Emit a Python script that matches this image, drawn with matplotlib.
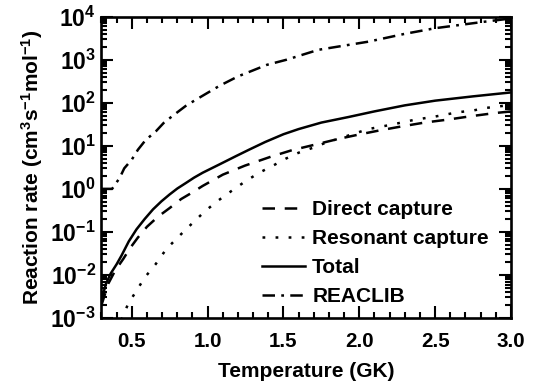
import matplotlib
matplotlib.use("Agg")
import numpy as np
import matplotlib.pyplot as plt
from matplotlib.ticker import MultipleLocator, LogLocator, NullFormatter

# ── data ────────────────────────────────────────────────────────────────────
T_direct = [0.30, 0.345, 0.39, 0.443, 0.49, 0.54, 0.60, 0.672, 0.75, 0.825, 0.90,
            0.967, 1.10, 1.246, 1.415, 1.557, 1.71, 1.863, 1.994, 2.136, 2.278,
            2.43, 2.584, 2.74, 2.89, 3.00]
rate_direct = [2.0e-3, 6.3e-3, 0.0126, 0.0234, 0.0427, 0.074, 0.132, 0.225, 0.36,
               0.58, 0.83, 1.17, 2.14, 3.47, 5.56, 7.94, 10.7, 14.5, 18.2, 22.9,
               28.2, 34.7, 40.7, 49.0, 57.5, 63.0]

T_reson = [0.43, 0.476, 0.53, 0.585, 0.657, 0.727, 0.808, 0.898, 0.985, 1.07,
           1.164, 1.25, 1.34, 1.426, 1.514, 1.60, 1.69, 1.776, 1.874, 2.06, 2.21,
           2.37, 2.485, 2.65, 2.75, 2.835, 2.93, 3.00]
rate_reson = [8.9e-4, 2.14e-3, 4.27e-3, 8.7e-3, 0.0178, 0.0398, 0.0776, 0.158,
              0.309, 0.537, 0.93, 1.51, 2.37, 3.39, 5.01, 6.92, 8.91, 11.7, 15.1,
              24.5, 30.9, 40.7, 46.8, 60.3, 66.1, 75.9, 83.2, 89.0]

T_total = [0.30, 0.33, 0.36, 0.40, 0.432, 0.48, 0.531, 0.585, 0.64, 0.695, 0.749,
           0.80, 0.858, 0.91, 0.967, 1.077, 1.186, 1.273, 1.38, 1.50, 1.60, 1.75,
           1.93, 2.10, 2.30, 2.50, 2.75, 3.00]
rate_total = [2.63e-3, 6.3e-3, 0.0107, 0.0178, 0.0282, 0.0603, 0.115, 0.20, 0.335,
              0.513, 0.741, 1.02, 1.38, 1.82, 2.37, 3.69, 5.75, 8.13, 12.3, 18.6,
              24.5, 34.7, 46.8, 63.1, 87.1, 112.0, 141.0, 174.0]

T_reaclib = [0.30, 0.37, 0.42, 0.45, 0.50, 0.54, 0.59, 0.66, 0.71, 0.77, 0.86,
             0.96, 1.08, 1.20, 1.39, 1.52, 1.73, 2.06, 2.30, 2.50, 2.82, 3.00]
rate_reaclib = [1.0, 1.0, 1.8, 3.0, 4.8, 8.1, 13.5, 22.0, 34.0, 50.0, 87.0, 141.0,
                250.0, 410.0, 760.0, 1000.0, 1700.0, 2630.0, 4000.0, 5400.0,
                7600.0, 9100.0]

# ── style ───────────────────────────────────────────────────────────────────
plt.rcParams["font.family"] = "Liberation Sans"
plt.rcParams["font.weight"] = "bold"
plt.rcParams["mathtext.fontset"] = "custom"
plt.rcParams["mathtext.rm"] = "Liberation Sans:bold"
plt.rcParams["mathtext.bf"] = "Liberation Sans:bold"
plt.rcParams["mathtext.default"] = "bf"
plt.rcParams["lines.scale_dashes"] = False
plt.rcParams["axes.unicode_minus"] = False

FS = 15

fig = plt.figure(figsize=(5.41, 3.90), dpi=100)
ax = fig.add_axes([0.1876, 0.1846, 0.7569, 0.7726])

lw = 1.8
ax.plot(T_direct, rate_direct, color="black", lw=lw, dashes=(9, 7),
        label="Direct capture")
ax.plot(T_reson, rate_reson, color="black", lw=lw, dashes=(2.0, 7.4),
        label="Resonant capture")
ax.plot(T_total, rate_total, color="black", lw=lw, label="Total")
ax.plot(T_reaclib, rate_reaclib, color="black", lw=lw, dashes=(9, 4.5, 2.0, 4.5),
        label="REACLIB")

ax.set_yscale("log")
ax.set_xlim(0.3, 3.0)
ax.set_ylim(1e-3, 1e4)

ax.xaxis.set_major_locator(MultipleLocator(0.5))
ax.xaxis.set_minor_locator(MultipleLocator(0.1))
ax.xaxis.set_major_formatter(plt.FuncFormatter(lambda v, p: f"{v:.1f}"))
ax.yaxis.set_major_locator(LogLocator(base=10, numticks=20))
ax.yaxis.set_minor_locator(LogLocator(base=10, subs=np.arange(2, 10), numticks=20))
ax.yaxis.set_minor_formatter(NullFormatter())

ax.tick_params(which="both", direction="in", top=True, right=True, width=1.5)
ax.tick_params(which="major", length=8.5)
ax.tick_params(which="minor", length=4.5)
ax.tick_params(axis="x", pad=10, labelsize=14.8)
ax.tick_params(axis="y", pad=4, labelsize=16.5)
for s in ax.spines.values():
    s.set_linewidth(1.9)

ax.set_xlabel("Temperature (GK)", fontsize=FS, fontweight="bold", labelpad=8)
ax.set_ylabel(r"Reaction rate (cm$^{3}$s$^{-1}$mol$^{-1}$)", fontsize=FS,
              fontweight="bold", labelpad=4)

ax.legend(loc="upper left", bbox_to_anchor=(0.391, 0.392), frameon=False,
          fontsize=FS, handlelength=2.1, handletextpad=0.33, labelspacing=0.48,
          borderpad=0, borderaxespad=0)

fig.savefig("out.png", dpi=100)
